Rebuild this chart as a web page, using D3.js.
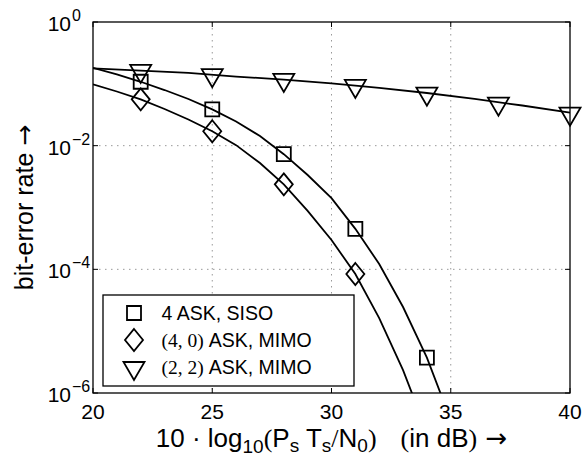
<!DOCTYPE html>
<html>
<head>
<meta charset="utf-8">
<script src="https://cdn.jsdelivr.net/npm/d3@7"></script>
<style>
  body { margin: 0; background: #fff; }
  text { font-family: "Liberation Sans", Arial, sans-serif; fill: #000; }
  .serif { font-family: "Liberation Serif", "DejaVu Serif", serif; }
  .arrow { font-family: "DejaVu Sans", sans-serif; }
</style>
</head>
<body>
<svg id="chart"></svg>
<script>
// simulated points (markers)
const simSnr = [22, 25, 28, 31, 34, 37, 40];
const simSiso = [0.108, 0.0387, 0.00728, 4.52e-4, 3.72e-6];
const simMimo40 = [0.0562, 0.0171, 0.00237, 8.4e-5];
const simMimo22 = [0.162, 0.138, 0.116, 0.0926, 0.0695, 0.0479, 0.0330];

// theory curves
const thSnrSiso = [20, 21, 22, 23, 24, 25, 26, 27, 28, 29, 30, 31, 32, 33, 34, 35];
const thSiso = [0.182, 0.142, 0.108, 0.0794, 0.0568, 0.0387, 0.0246, 0.0143, 0.00728,
                0.00335, 0.00142, 4.52e-4, 1.22e-4, 2.46e-5, 3.72e-6, 3.66e-7];
const thSnrMimo40 = [20, 21, 22, 23, 24, 25, 26, 27, 28, 29, 30, 31, 32, 33, 34];
const thMimo40 = [0.0983, 0.0752, 0.0562, 0.0392, 0.0265, 0.0171, 0.0102, 0.00525, 0.00237,
                  8.8e-4, 2.98e-4, 8.4e-5, 1.63e-5, 2.35e-6, 2.34e-7];
const thSnrMimo22 = [20, 22, 24, 26, 28, 30, 32, 34, 36, 38, 40];
const thMimo22 = [0.178, 0.164, 0.150, 0.131, 0.117, 0.102, 0.0863, 0.0711, 0.0569, 0.0446, 0.0341];

const xTicks = [20, 25, 30, 35, 40];
const yTicks = [1, 1e-2, 1e-4, 1e-6];
const yTickExp = ["0", "\u22122", "\u22124", "\u22126"];

const W = 585, H = 457;
const margin = {left: 93, top: 22, right: 15, bottom: 64};
const w = W - margin.left - margin.right;
const h = H - margin.top - margin.bottom;

const svg = d3.select("#chart").attr("width", W).attr("height", H);
const g = svg.append("g").attr("transform", `translate(${margin.left},${margin.top})`);

const x = d3.scaleLinear().domain([20, 40]).range([0, w]);
const y = d3.scaleLog().domain([1e-6, 1]).range([h, 0]);

svg.append("defs").append("clipPath").attr("id", "plotclip")
  .append("rect").attr("width", w).attr("height", h);

// dotted grid
g.append("g").selectAll("line.gx")
  .data(xTicks.slice(1, -1))
  .join("line")
  .attr("x1", d => x(d)).attr("x2", d => x(d))
  .attr("y1", 0).attr("y2", h)
  .attr("stroke", "#999").attr("stroke-width", 1)
  .attr("stroke-dasharray", "1.5,4.5");
g.append("g").selectAll("line.gy")
  .data(yTicks.slice(1, -1))
  .join("line")
  .attr("x1", 0).attr("x2", w)
  .attr("y1", d => y(d)).attr("y2", d => y(d))
  .attr("stroke", "#999").attr("stroke-width", 1)
  .attr("stroke-dasharray", "1.5,4.5");

// ticks inside, all four sides
const tk = 5;
const ticks = g.append("g").attr("stroke", "#000").attr("stroke-width", 1);
xTicks.forEach(d => {
  ticks.append("line").attr("x1", x(d)).attr("x2", x(d)).attr("y1", h).attr("y2", h - tk);
  ticks.append("line").attr("x1", x(d)).attr("x2", x(d)).attr("y1", 0).attr("y2", tk);
});
yTicks.forEach(d => {
  ticks.append("line").attr("x1", 0).attr("x2", tk).attr("y1", y(d)).attr("y2", y(d));
  ticks.append("line").attr("x1", w).attr("x2", w - tk).attr("y1", y(d)).attr("y2", y(d));
});

// tick labels
g.append("g").selectAll("text")
  .data(xTicks)
  .join("text")
  .attr("x", d => x(d)).attr("y", h + 26)
  .attr("text-anchor", "middle")
  .style("font-size", "21px")
  .text(d => d);

const yl = g.append("g");
yTicks.forEach((d, i) => {
  yl.append("text")
    .attr("x", -22).attr("y", y(d) + 9)
    .attr("text-anchor", "end")
    .style("font-size", "21px")
    .text("10");
  yl.append("text")
    .attr("x", -21).attr("y", y(d) - 1)
    .style("font-size", "16px")
    .text(yTickExp[i]);
});

// curves
const line = d3.line().x(d => x(d[0])).y(d => y(d[1]));
const curves = [
  d3.zip(thSnrSiso, thSiso),
  d3.zip(thSnrMimo40, thMimo40),
  d3.zip(thSnrMimo22, thMimo22)
];
g.append("g").attr("clip-path", "url(#plotclip)")
  .selectAll("path")
  .data(curves)
  .join("path")
  .attr("d", line)
  .attr("fill", "none")
  .attr("stroke", "#000")
  .attr("stroke-width", 1.8);

// marker shapes
const shapes = {
  square: "M-7,-7H7V7H-7Z",
  diamond: "M0,-11L9,0L0,11L-9,0Z",
  triangle: "M-10.5,-6L10.5,-6L0,12Z"
};

function drawMarkers(sel, xs, ys, shape) {
  sel.append("g").selectAll("path")
    .data(d3.zip(xs, ys))
    .join("path")
    .attr("transform", d => `translate(${x(d[0])},${y(d[1])})`)
    .attr("d", shapes[shape])
    .attr("fill", "none")
    .attr("stroke", "#000")
    .attr("stroke-width", 1.8);
}
drawMarkers(g, simSnr.slice(0, 5), simSiso, "square");
drawMarkers(g, simSnr.slice(0, 4), simMimo40, "diamond");
drawMarkers(g, simSnr, simMimo22, "triangle");

// axes box
g.append("rect")
  .attr("width", w).attr("height", h)
  .attr("fill", "none").attr("stroke", "#000").attr("stroke-width", 1.3);

// legend
const lg = svg.append("g");
lg.append("rect")
  .attr("x", 103).attr("y", 295).attr("width", 251).attr("height", 91)
  .attr("fill", "#fff").attr("stroke", "#000").attr("stroke-width", 1.3);
const legRows = [
  {shape: "square", my: 313, ty: 319.5, pre: "4 ", rest: "ASK, SISO"},
  {shape: "diamond", my: 340, ty: 346.5, pre: "(4, 0) ", rest: "ASK, MIMO"},
  {shape: "triangle", my: 368, ty: 374, pre: "(2, 2) ", rest: "ASK, MIMO"}
];
legRows.forEach((r, i) => {
  lg.append("path")
    .attr("transform", `translate(134,${r.my})`)
    .attr("d", shapes[r.shape])
    .attr("fill", "none").attr("stroke", "#000").attr("stroke-width", 1.8);
  const t = lg.append("text").attr("x", 161.5).attr("y", r.ty).style("font-size", "19.5px");
  if (i === 0) {
    t.text(r.pre + r.rest);
  } else {
    t.append("tspan").attr("class", "serif").text(r.pre);
    t.append("tspan").text(r.rest);
  }
});

// y label
svg.append("text")
  .attr("transform", `translate(33,${margin.top + h / 2}) rotate(-90)`)
  .attr("text-anchor", "middle")
  .style("font-size", "25px")
  .call(t => {
    t.append("tspan").text("bit-error rate ");
    t.append("tspan").attr("class", "arrow").text("\u2192");
  });

// x label
const xl = svg.append("text")
  .attr("x", margin.left + w / 2).attr("y", 447)
  .attr("text-anchor", "middle")
  .style("font-size", "26px");
const parts = [
  ["10 \u00b7 log", null, 0],
  ["10", null, 6, 19],
  ["(", "serif", -6],
  ["P", null, 0],
  ["s", null, 5, 19],
  [" T", null, -5],
  ["s", null, 5, 19],
  ["/", "serif", -5],
  ["N", null, 0],
  ["0", null, 5, 19],
  [")", "serif", -5],
  ["(", "serif", 0, null, 24],
  ["in dB", null, 0],
  [")", "serif", 0],
  [" \u2192", "arrow", 0]
];
parts.forEach(p => {
  const s = xl.append("tspan").text(p[0]);
  if (p[1]) s.attr("class", p[1]);
  if (p[2]) s.attr("dy", p[2]);
  if (p[3]) s.style("font-size", p[3] + "px");
  if (p[4]) s.attr("dx", p[4]);
});
</script>
</body>
</html>
